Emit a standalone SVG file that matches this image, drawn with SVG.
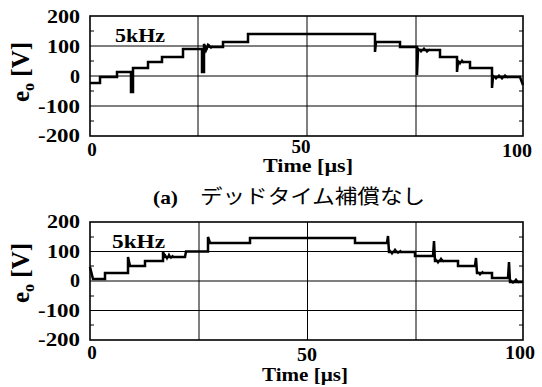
<svg xmlns="http://www.w3.org/2000/svg" width="542" height="387" viewBox="0 0 542 387">
<style>
.frame{fill:none;stroke:#000;stroke-width:1.6}
.grid{stroke:#000;stroke-width:1;fill:none}
.tick{stroke:#000;stroke-width:1.2}
.wave{fill:none;stroke:#000;stroke-width:2.5;stroke-linejoin:miter}
.fuzz{fill:none;stroke:#000;stroke-width:1.5}
.lbl{font-family:"Liberation Serif","Times New Roman",serif;font-weight:bold;font-size:19px;fill:#000}
.yl{font-family:"Liberation Serif","Times New Roman",serif;font-weight:bold;font-size:25px;fill:#000}
.jp{font-family:"Noto Sans CJK JP","Noto Sans CJK SC",sans-serif;font-size:20px;fill:#000}
</style>
<rect width="542" height="387" fill="#fff"/>

<g id="plot-top">
  <g id="top-grid">
    <line class="grid" x1="90" y1="46" x2="523" y2="46"/>
    <line class="grid" x1="90" y1="76" x2="523" y2="76"/>
    <line class="grid" x1="90" y1="106" x2="523" y2="106"/>
    <line class="grid" x1="198" y1="16" x2="198" y2="136"/>
    <line class="grid" x1="307" y1="16" x2="307" y2="136"/>
    <line class="grid" x1="416" y1="16" x2="416" y2="136"/>
    <path class="tick" d="M90,31h4M90,61h4M90,91h4M90,121h4M523,31h-4M523,61h-4M523,91h-4M523,121h-4"/>
    <rect class="frame" x="90" y="16" width="433" height="120"/>
  </g>
  <g id="top-wave">
    <path class="wave" d="M90,83 L100,83 L100,77 L117,77 L117,72 L131,72 L131,92 L133,92 L133,68 L148,68 L148,62 L162,62 L162,57 L183,57 L183,49 L202,49 L202,72 L204,72 L204,44 L206,50 L208,45 L210,47 L223,47 L223,42 L248,42 L248,34 L375,34 L375,52 L376,42 L400,42 L400,47 L417,47 L417,75 L418,50 L440,50 L440,57 L457,57 L457,72 L458,62 L470,62 L470,68 L492,68 L492,88 L493,77 L520,77 L523,85"/>
    <path class="fuzz" d="M205,46 L207,49 L209,45 L211,48 L213,46 M418,48 L421,52 L424,48 L427,52 L430,49 M458,60 L460,64 L462,60 L464,63 M493,75 L496,79 L499,75 L502,79 L505,75 L508,78"/>
  </g>
  <g id="top-labels">
    <text class="lbl" x="80" y="22.5" text-anchor="end" textLength="33" lengthAdjust="spacingAndGlyphs">200</text>
    <text class="lbl" x="80" y="52.5" text-anchor="end" textLength="33" lengthAdjust="spacingAndGlyphs">100</text>
    <text class="lbl" x="80" y="82.5" text-anchor="end" textLength="10" lengthAdjust="spacingAndGlyphs">0</text>
    <text class="lbl" x="80" y="112.5" text-anchor="end" textLength="42" lengthAdjust="spacingAndGlyphs">-100</text>
    <text class="lbl" x="80" y="141.5" text-anchor="end" textLength="42" lengthAdjust="spacingAndGlyphs">-200</text>
    <text class="lbl" x="92" y="156" text-anchor="middle">0</text>
    <text class="lbl" x="301" y="153" text-anchor="middle" textLength="19" lengthAdjust="spacingAndGlyphs">50</text>
    <text class="lbl" x="517" y="157" text-anchor="middle" textLength="30" lengthAdjust="spacingAndGlyphs">100</text>
    <text class="lbl" x="308" y="172" text-anchor="middle" textLength="90" lengthAdjust="spacingAndGlyphs">Time [µs]</text>
    <text class="lbl" x="115" y="42" textLength="50" lengthAdjust="spacingAndGlyphs">5kHz</text>
    <text class="yl" transform="translate(29,72) rotate(-90)" text-anchor="middle">e<tspan font-size="16" dy="5">o</tspan><tspan dy="-5"> [V]</tspan></text>
  </g>
</g>

<g id="caption">
  <text class="lbl" x="153" y="204" font-size="20" textLength="25" lengthAdjust="spacingAndGlyphs">(a)</text>
  <text class="jp" x="200" y="204" textLength="225" lengthAdjust="spacingAndGlyphs">デッドタイム補償なし</text>
</g>

<g id="plot-bottom">
  <g id="bottom-grid">
    <line class="grid" x1="90" y1="251.5" x2="523" y2="251.5"/>
    <line class="grid" x1="90" y1="281" x2="523" y2="281"/>
    <line class="grid" x1="90" y1="310.5" x2="523" y2="310.5"/>
    <line class="grid" x1="199" y1="222" x2="199" y2="340"/>
    <line class="grid" x1="307.5" y1="222" x2="307.5" y2="340"/>
    <line class="grid" x1="416" y1="222" x2="416" y2="340"/>
    <path class="tick" d="M90,237h4M90,266h4M90,296h4M90,325h4M523,237h-4M523,266h-4M523,296h-4M523,325h-4"/>
    <rect class="frame" x="90" y="222" width="433" height="118"/>
  </g>
  <g id="bottom-wave">
    <path class="wave" d="M90,267 L93,279 L105,279 L105,273 L128,273 L128,257 L130,266 L145,266 L145,261 L163,261 L163,252 L165,257 L185,257 L186,251.5 L208,251.5 L208,237 L210,243 L250,243 L250,238 L355,238 L355,243 L387,243 L388,236 L389,252 L415,252 L415,256 L433,256 L434,241 L435,261 L458,261 L458,266 L475,266 L476,258 L477,273 L492,273 L492,278 L508,278 L509,262 L510,282 L523,282"/>
    <path class="fuzz" d="M165,254 L167,259 L169,254 L171,258 L173,255 M389,249 L392,254 L395,249 L398,253 L401,250 M435,258 L438,263 L441,258 L444,262 M477,271 L480,275 L483,271 M510,279 L513,283 L516,279 L519,283"/>
  </g>
  <g id="bottom-labels">
    <text class="lbl" x="80" y="228" text-anchor="end" textLength="33" lengthAdjust="spacingAndGlyphs">200</text>
    <text class="lbl" x="80" y="257.5" text-anchor="end" textLength="33" lengthAdjust="spacingAndGlyphs">100</text>
    <text class="lbl" x="80" y="287" text-anchor="end" textLength="10" lengthAdjust="spacingAndGlyphs">0</text>
    <text class="lbl" x="80" y="316.5" text-anchor="end" textLength="42" lengthAdjust="spacingAndGlyphs">-100</text>
    <text class="lbl" x="80" y="346" text-anchor="end" textLength="42" lengthAdjust="spacingAndGlyphs">-200</text>
    <text class="lbl" x="92" y="359" text-anchor="middle">0</text>
    <text class="lbl" x="307" y="361" text-anchor="middle" textLength="20" lengthAdjust="spacingAndGlyphs">50</text>
    <text class="lbl" x="520" y="359" text-anchor="middle" textLength="30" lengthAdjust="spacingAndGlyphs">100</text>
    <text class="lbl" x="305" y="381" text-anchor="middle" textLength="86" lengthAdjust="spacingAndGlyphs">Time [µs]</text>
    <text class="lbl" x="112" y="248" textLength="53" lengthAdjust="spacingAndGlyphs">5kHz</text>
    <text class="yl" transform="translate(29,273) rotate(-90)" text-anchor="middle">e<tspan font-size="16" dy="5">o</tspan><tspan dy="-5"> [V]</tspan></text>
  </g>
</g>
</svg>
